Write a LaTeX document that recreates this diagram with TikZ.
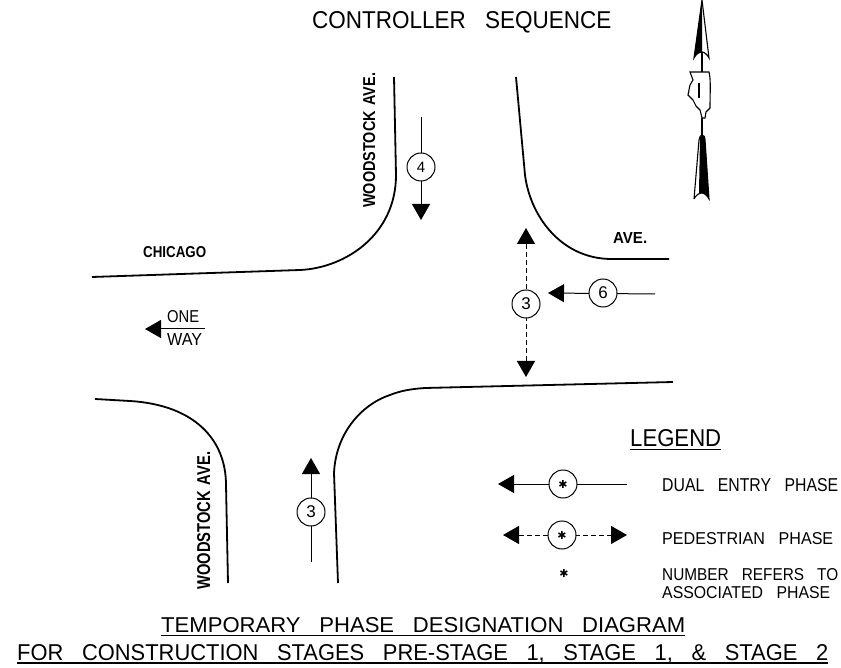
\documentclass[tikz,border=0pt]{standalone}
\usepackage{fontspec}
\setmainfont{Liberation Sans}
\newfontfamily\djvfont{DejaVu Sans}
\usetikzlibrary{arrows.meta}
\newcommand{\fith}[3]{\resizebox{#1pt}{#2pt}{#3}}
\newcommand{\wgap}{\hspace{.85em}}
\tikzset{
 road/.style={line width=1.8pt,black},
 phase/.style={line width=1pt,-{Triangle[length=16pt,width=18pt]}},
 ped/.style={line width=1pt,dash pattern=on 5pt off 3pt,{Triangle[length=16pt,width=18pt]}-{Triangle[length=16pt,width=18pt]}},
 num/.style={circle,draw,line width=1pt,fill=white,minimum size=28pt,inner sep=0pt,font=\fontsize{17}{17}\selectfont},
 star/.style={num,font=\djvfont\fontsize{11}{11}\selectfont},
 txt/.style={inner sep=0pt,anchor=base west,black},
 rtxt/.style={txt,rotate=90,font=\bfseries},
 ul/.style={line width=1.2pt,black},
 np/.style={line width=1.1pt}
}
\begin{document}
\begin{tikzpicture}[x=1pt,y=-1pt]
\useasboundingbox (0,0) rectangle (841,668);
\fill[white] (0,0) rectangle (841,668);
% title
\node[txt] (title) at (312,29) {\fith{299}{17}{CONTROLLER\wgap SEQUENCE}};
% roads
\draw[road] (92,277) -- (300,270) .. controls (345,268) and (396,235) .. (396,175) -- (394,77);
\draw[road] (516,77) -- (525,175) .. controls (530,215) and (560,258) .. (610,259) -- (669,259);
\draw[road] (338,583) -- (334,473) .. controls (336,430) and (365,403) .. (390,395) .. controls (400,391) and (410,389) .. (425,388) -- (673,382);
\draw[road] (95,399) -- (130,401) .. controls (195,405) and (226,440) .. (226,485) -- (228,583);
% road labels
\node[txt,font=\bfseries] (chi) at (143,258) {\fith{63}{11}{CHICAGO}};
\node[txt,font=\bfseries] (ave) at (613,244) {\fith{34}{11}{AVE.}};
\node[rtxt] (w1) at (375,208) {\fith{135}{12}{WOODSTOCK\hspace{.4em}AVE.}};
\node[rtxt] (w2) at (210,590) {\fith{138}{13}{WOODSTOCK\hspace{.4em}AVE.}};
% phases
\coordinate (a4s) at (421,117); \coordinate (a4e) at (421,220);
\draw[phase] (a4s) -- (a4e);
\node[num] (n4) at (421,167) {\fontsize{15}{15}\selectfont 4};
\coordinate (a3s) at (311,562); \coordinate (a3e) at (311,458);
\draw[phase] (a3s) -- (a3e);
\node[num] (n3) at (311,512) {3};
\coordinate (p3t) at (526,228); \coordinate (p3b) at (526,377);
\draw[ped] (p3t) -- (p3b);
\node[num] (n3p) at (526,304) {3};
\coordinate (a6s) at (655,294); \coordinate (a6e) at (548,293);
\draw[phase] (a6s) -- (a6e);
\node[num] (n6) at (603,293) {6};
% one way
\coordinate (ows) at (205,329); \coordinate (owe) at (145,329);
\draw[phase] (ows) -- (owe);
\node[txt] (one) at (167,323) {\fith{32}{12}{ONE}};
\node[txt] (way) at (167,346) {\fith{35}{12}{WAY}};
% legend
\node[txt] (leg) at (630,446) {\fith{91}{17}{LEGEND}};
\draw[ul] (630,449.5) -- (721,449.5);
\coordinate (l1s) at (627,484); \coordinate (l1e) at (498,484);
\draw[phase] (l1s) -- (l1e);
\node[star] (l1) at (563,484) {✱};
\coordinate (l2a) at (503,535); \coordinate (l2b) at (627,535);
\draw[ped] (l2a) -- (l2b);
\node[star] (l2) at (562,535) {✱};
\node[inner sep=0pt,font=\djvfont\fontsize{11}{11}\selectfont] (st) at (564,573) {✱};
\node[txt] (t1) at (662,491) {\fith{176}{13}{DUAL\wgap ENTRY\wgap PHASE}};
\node[txt] (t2) at (662,544) {\fith{171}{12}{PEDESTRIAN\wgap PHASE}};
\node[txt] (t3) at (662,580) {\fith{176}{12}{NUMBER\wgap REFERS\wgap TO}};
\node[txt] (t4) at (662,598) {\fith{168}{12}{ASSOCIATED\wgap PHASE}};
% bottom titles
\node[txt] (b1) at (161,632) {\fith{524}{15}{TEMPORARY\wgap PHASE\wgap DESIGNATION\wgap DIAGRAM}};
\draw[ul] (161,635.5) -- (685,635.5);
\node[txt] (b2) at (17,660) {\fith{811}{16}{FOR\wgap CONSTRUCTION\wgap STAGES\wgap PRE-STAGE\wgap 1,\wgap STAGE\wgap 1,\wgap \&\wgap STAGE\wgap 2}};
\draw[ul] (17,663) -- (828,663);
% north arrow
\fill (702,0) -- (694,58) .. controls (696,54) and (699,52) .. (702,52) -- cycle;
\draw[np] (702,0) -- (709,58) .. controls (707,54) and (704,52) .. (702,52) .. controls (699,52) and (696,54) .. (694,58) -- cycle;
\draw[np] (702,52) -- (702,72);
\draw[np] (690,72) -- (709,72) .. controls (711,80) and (710,92) .. (710,108) -- (706,112) -- (705,118) -- (702,118) -- (700,110) -- (696,106) -- (693,100) -- (688,95) -- (690,85) -- (693,80) -- cycle;
\draw[np] (699,83) -- (699,98);
\draw[np] (702,118) -- (702,135);
\fill (700,137) .. controls (701,135) and (704,135) .. (705,138) -- (709,199) .. controls (707,195) and (704,193) .. (699,193) -- cycle;
\draw[np] (694,199) -- (699,140) .. controls (699,137) and (701,135) .. (702,135) .. controls (704,135) and (705,137) .. (705,140) -- (709,199) .. controls (707,195) and (704,193) .. (702,193) .. controls (699,193) and (696,195) .. (694,199);
\end{tikzpicture}
\end{document}
